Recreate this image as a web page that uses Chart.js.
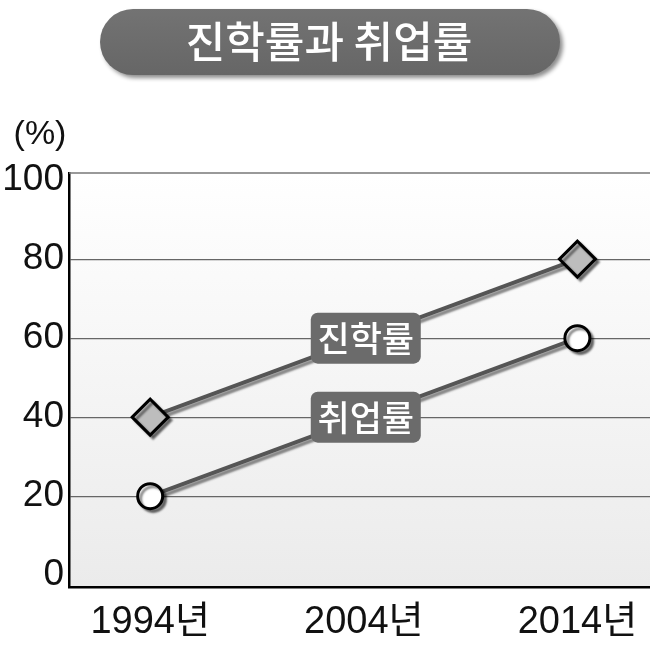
<!DOCTYPE html>
<html>
<head>
<meta charset="utf-8">
<script src="https://cdn.jsdelivr.net/npm/chart.js@4"></script>
<style>
  html, body { margin: 0; padding: 0; background: #fff; }
  #wrap { width: 650px; height: 650px; }
</style>
</head>
<body>
<div id="wrap"><canvas id="chart" width="650" height="650"></canvas></div>
<script>
// 데이터
const chartTitle = '진학률과 취업률';
const tickYears = [1994, 2004, 2014];
const dataYears = [1994, 2014];
const jinhak = [40, 80];   // 진학률
const chwieop = [20, 60];  // 취업률
const seriesNames = ['진학률', '취업률'];
const yTicks = [0, 20, 40, 60, 80, 100];

const numFont = '"Liberation Sans", "Noto Sans CJK KR", sans-serif';
const korFont = '"Noto Sans CJK KR", sans-serif';

function toPoints(years, vals) {
  return years.map((y, i) => ({ x: y, y: vals[i] }));
}

function roundRect(ctx, x, y, w, h, r) {
  ctx.beginPath();
  ctx.moveTo(x + r, y);
  ctx.lineTo(x + w - r, y);
  ctx.arcTo(x + w, y, x + w, y + r, r);
  ctx.lineTo(x + w, y + h - r);
  ctx.arcTo(x + w, y + h, x + w - r, y + h, r);
  ctx.lineTo(x + r, y + h);
  ctx.arcTo(x, y + h, x, y + h - r, r);
  ctx.lineTo(x, y + r);
  ctx.arcTo(x, y, x + r, y, r);
  ctx.closePath();
}

// 배경, 제목, 테두리, 라벨 그리기
const decor = {
  id: 'decor',
  beforeDraw(chart) {
    const { ctx, chartArea: a } = chart;
    ctx.save();
    const g = ctx.createLinearGradient(0, a.top, 0, a.bottom);
    g.addColorStop(0, '#ffffff');
    g.addColorStop(1, '#ebebeb');
    ctx.fillStyle = g;
    ctx.fillRect(a.left, a.top, a.right - a.left, a.bottom - a.top);

    // 제목 알약
    ctx.shadowColor = 'rgba(0,0,0,0.45)';
    ctx.shadowBlur = 4;
    ctx.shadowOffsetX = 3;
    ctx.shadowOffsetY = 3;
    roundRect(ctx, 100, 9, 460, 66, 33);
    const tg = ctx.createLinearGradient(0, 9, 0, 75);
    tg.addColorStop(0, '#737373');
    tg.addColorStop(1, '#666666');
    ctx.fillStyle = tg;
    ctx.fill();
    ctx.shadowColor = 'transparent';
    ctx.fillStyle = '#fff';
    ctx.font = '500 43px ' + korFont;
    ctx.textAlign = 'center';
    ctx.textBaseline = 'middle';
    ctx.fillText(chartTitle, 329, 42);

    // (%) 단위
    ctx.fillStyle = '#111';
    ctx.font = '34px ' + numFont;
    ctx.fillText('(%)', 40, 135);
    ctx.restore();
  },
  afterDraw(chart) {
    const { ctx, chartArea: a } = chart;
    ctx.save();
    // 위쪽 테두리
    ctx.strokeStyle = '#777';
    ctx.lineWidth = 1.5;
    ctx.beginPath();
    ctx.moveTo(a.left, a.top);
    ctx.lineTo(a.right, a.top);
    ctx.stroke();

    // 선 위 이름표 (2004년 위치)
    const xs = chart.scales.x;
    chart.data.datasets.forEach((ds, i) => {
      const pts = chart.getDatasetMeta(i).data;
      const p0 = pts[0], p1 = pts[pts.length - 1];
      const cx = xs.getPixelForValue(tickYears[1]);
      const t = (cx - p0.x) / (p1.x - p0.x);
      const cy = p0.y + (p1.y - p0.y) * t;
      const w = 110, h = 51;
      roundRect(ctx, cx - w / 2 + 2, cy - h / 2, w, h, 7);
      ctx.fillStyle = '#6b6b6b';
      ctx.fill();
      ctx.fillStyle = '#fff';
      ctx.font = '500 35px ' + korFont;
      ctx.textAlign = 'center';
      ctx.textBaseline = 'middle';
      ctx.fillText(ds.label, cx + 2, cy + 1);
    });
    ctx.restore();
  },
  beforeDatasetDraw(chart) {
    const ctx = chart.ctx;
    ctx.save();
    ctx.shadowColor = 'rgba(0,0,0,0.45)';
    ctx.shadowBlur = 2;
    ctx.shadowOffsetX = 3;
    ctx.shadowOffsetY = 3;
  },
  afterDatasetDraw(chart) {
    chart.ctx.restore();
  }
};

new Chart(document.getElementById('chart'), {
  type: 'line',
  data: {
    datasets: [
      {
        label: seriesNames[0],
        data: toPoints(dataYears, jinhak),
        borderColor: '#555555',
        borderWidth: 4,
        pointStyle: 'rectRot',
        pointRadius: 18,
        pointBackgroundColor: '#bdbdbd',
        pointBorderColor: '#000',
        pointBorderWidth: 3
      },
      {
        label: seriesNames[1],
        data: toPoints(dataYears, chwieop),
        borderColor: '#555555',
        borderWidth: 4,
        pointStyle: 'circle',
        pointRadius: 12.5,
        pointBackgroundColor: '#ffffff',
        pointBorderColor: '#000',
        pointBorderWidth: 3
      }
    ]
  },
  options: {
    responsive: false,
    animation: false,
    layout: { autoPadding: false, padding: { top: 173, left: 0, right: 0, bottom: 0 } },
    plugins: {
      legend: { display: false },
      tooltip: { enabled: false }
    },
    scales: {
      x: {
        type: 'linear',
        min: 1990.2,
        max: 2017.4,
        afterBuildTicks(scale) { scale.ticks = tickYears.map(v => ({ value: v })); },
        afterFit(scale) {
          scale.height = 63;
          scale.paddingLeft = 0;
          scale.paddingRight = 0;
        },
        grid: { display: false, drawTicks: false },
        border: { display: true, color: '#000', width: 2.5 },
        ticks: {
          color: '#111',
          padding: 13,
          maxRotation: 0,
          font: { family: numFont, size: 38 },
          callback: v => v + '년'
        }
      },
      y: {
        min: -3,
        max: 101.8,
        afterBuildTicks(scale) { scale.ticks = yTicks.map(v => ({ value: v })); },
        afterFit(scale) {
          scale.width = 69;
          scale.paddingTop = 0;
          scale.paddingBottom = 0;
        },
        grid: {
          drawTicks: false,
          lineWidth: 1.2,
          color: c => (c.tick && (c.tick.value === 0 || c.tick.value === 100)) ? 'rgba(0,0,0,0)' : '#666'
        },
        border: { display: true, color: '#000', width: 2.5 },
        ticks: {
          color: '#111',
          padding: 5,
          font: { family: numFont, size: 37 }
        }
      }
    }
  },
  plugins: [decor]
});
</script>
</body>
</html>
